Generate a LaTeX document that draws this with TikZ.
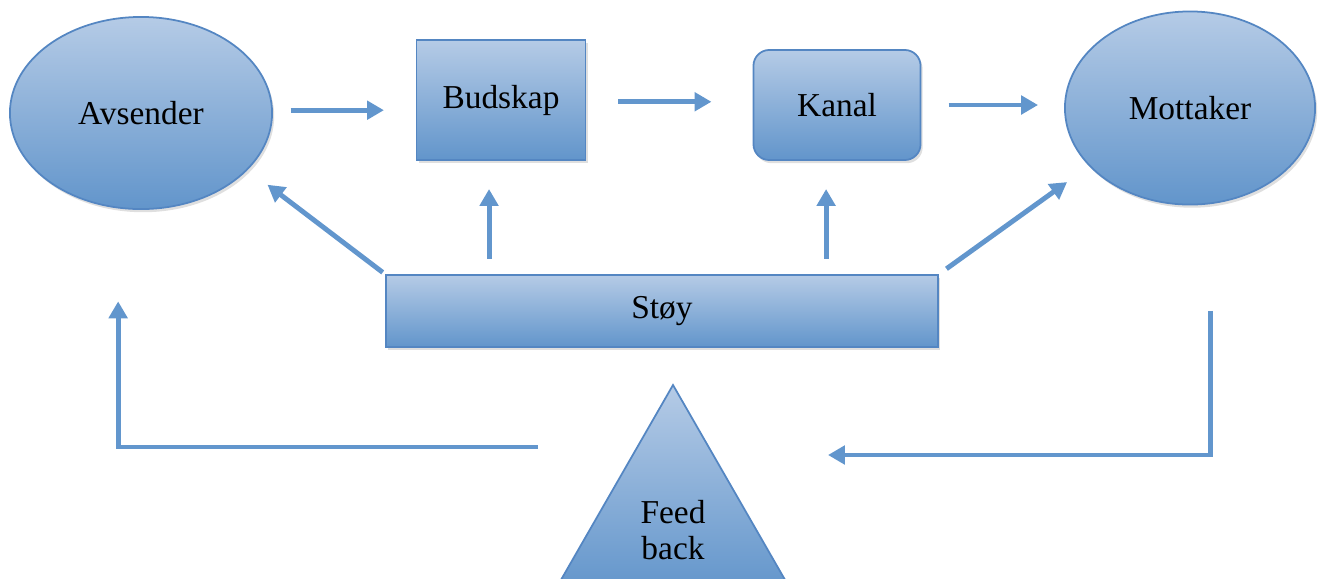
\documentclass[tikz,border=0pt]{standalone}
\usepackage{fontspec}
\setmainfont{Liberation Serif}
\usetikzlibrary{shapes,arrows.meta,shadows}

\definecolor{topblue}{RGB}{181,203,230}
\definecolor{botblue}{RGB}{98,149,203}
\definecolor{edgeblue}{RGB}{84,134,194}
\definecolor{flowblue}{RGB}{98,150,205}

\begin{document}
\begin{tikzpicture}[x=0.01cm,y=-0.01cm]
	\tikzset{box/.style={draw=edgeblue,line width=0.5pt,top color=topblue,bottom color=botblue,
		inner sep=0pt,font=\fontsize{9.5}{10.5}\selectfont,
		drop shadow={shadow xshift=0.6pt,shadow yshift=-0.9pt,opacity=0.25}}}
	\tikzset{flow/.style={draw=flowblue,line width=1.4pt,-{Triangle[width=5.2pt,length=4.8pt]}}}
	\useasboundingbox (0,0) rectangle (1322,578);

	%% Boxes on the top row
	\node[box,ellipse,minimum width=2.62cm,minimum height=1.92cm] (av) at (141,113) {Avsender};
	\node[box,rectangle,minimum width=1.69cm,minimum height=1.2cm] (bud) at (501,100) {Budskap};
	\node[box,rectangle,rounded corners=4.5pt,minimum width=1.67cm,minimum height=1.1cm] (kan) at (837,105) {Kanal};
	\node[box,ellipse,minimum width=2.5cm,minimum height=1.93cm] (mot) at (1190,108) {Mottaker};

	%% Noise bar
	\node[box,rectangle,minimum width=5.52cm,minimum height=0.72cm] (stoy) at (662,311) {Støy};

	%% Feed back triangle
	\shade[top color=topblue,bottom color=botblue,draw=edgeblue,line width=0.5pt]
		(673,385) -- (792,592) -- (554,592) -- cycle;
	\node[align=center,font=\fontsize{9.5}{10.2}\selectfont] (fb) at (673,530) {Feed\\back};
	\coordinate (fbl) at (538,447);
	\coordinate (fbr) at (828,455);

	%% Message flow
	\draw[flow,shorten <=5pt,shorten >=9pt] ([yshift=0.8pt]av.east) -- ([yshift=0.8pt]av.east -| bud.west);
	\draw[flow,shorten <=9pt,shorten >=11.7pt] ([yshift=-0.5pt]bud.east) -- ([yshift=-0.5pt]bud.east -| kan.west);
	\draw[flow,shorten <=7.7pt,shorten >=7.4pt] (kan.east) -- (kan.east -| mot.west);

	%% Noise arrows
	\draw[flow,shorten <=4.3pt,shorten >=8pt] ([xshift=-3.4pt]stoy.north -| bud) -- ([xshift=-3.4pt]bud.south);
	\draw[flow,shorten <=4.3pt,shorten >=8pt] ([xshift=-3.1pt]stoy.north -| kan) -- ([xshift=-3.1pt]kan.south);
	\draw[flow,shorten <=0.8pt,shorten >=7pt] (stoy.north west) -- (av.-28);
	\draw[flow,shorten <=2.6pt,shorten >=7.7pt] (stoy.north east) -- (mot.-150);

	%% Feedback loop
	\draw[flow,shorten >=26pt] (fbl) -| ([xshift=-6.5pt]av.south);
	\draw[flow,shorten <=30pt] ([xshift=5.7pt]mot.south) |- (fbr);
\end{tikzpicture}
\end{document}
